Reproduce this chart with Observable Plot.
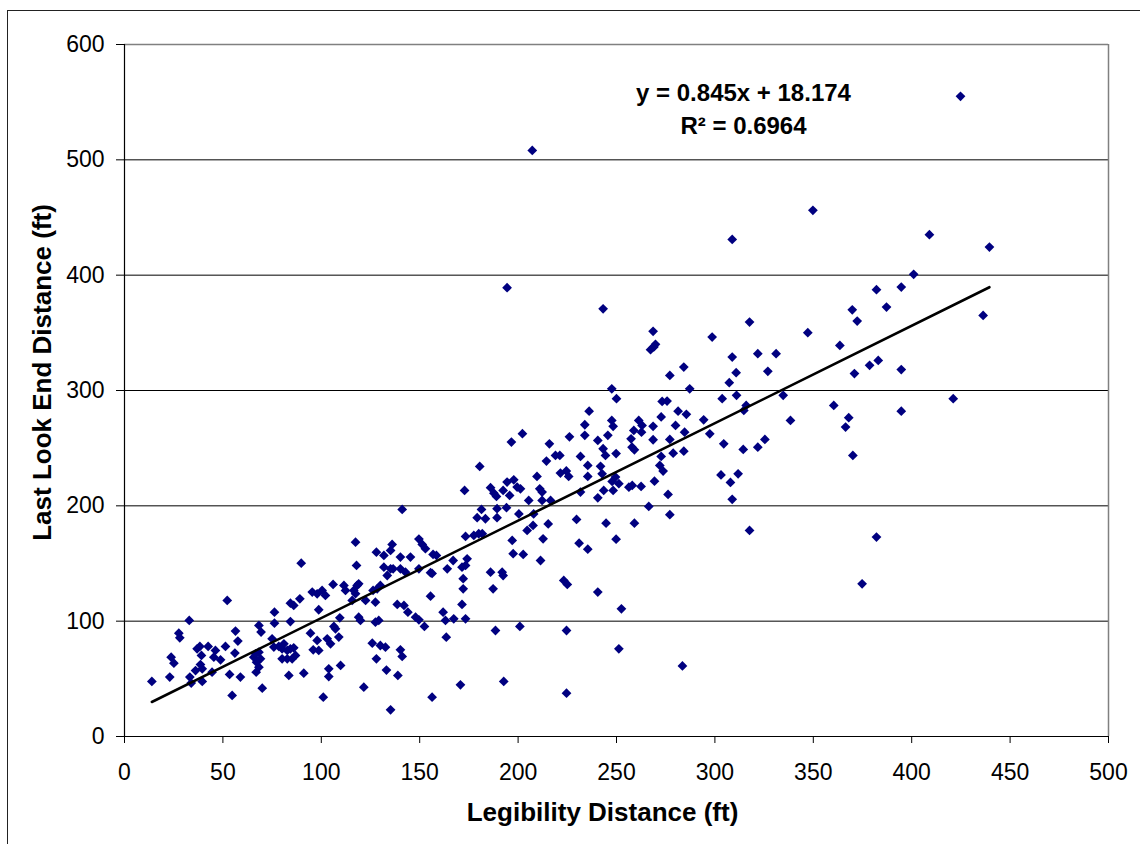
<!DOCTYPE html>
<html>
<head>
<meta charset="utf-8">
<script src="https://cdn.jsdelivr.net/npm/d3@7"></script>
<script src="https://cdn.jsdelivr.net/npm/@observablehq/plot@0.6"></script>
<style>
  html, body { margin: 0; padding: 0; background: #fff; overflow: hidden; }
  #wrap { position: relative; width: 1140px; height: 844px; }
  #frame { position: absolute; left: 7px; top: 10px; width: 1300px; height: 1000px;
           border-left: 1.5px solid #222; border-top: 1.5px solid #222; pointer-events: none; }
</style>
</head>
<body>
<div id="wrap"><div id="chart"></div><div id="frame"></div></div>
<script>
// Legibility distance (ft) vs Last look end distance (ft), grouped by x band
const band0to115 = [
  [89.8,150.3],[106.0,131.8],[111.5,131.0],[112.3,126.6],[52.2,118.0],[95.4,125.2],[97.9,123.7],[100.4,126.6],[102.1,122.3],
  [84.3,115.6],[86.0,113.6],[89.1,119.4],[76.2,107.8],[98.7,109.9],[109.4,102.9],[32.9,100.6],[76.2,98.3],[84.3,99.7],
  [68.3,96.3],[56.4,91.4],[69.4,90.5],[94.5,89.6],[106.4,95.4],[107.2,93.4],[108.9,86.2],[27.6,89.6],[28.1,85.6],
  [57.6,82.7],[75.0,84.7],[97.9,83.3],[103.0,84.7],[104.7,80.4],[36.9,76.0],[38.3,78.1],[42.5,78.1],[51.3,78.1],
  [39.1,70.3],[46.2,74.6],[56.1,72.3],[45.4,68.8],[48.8,66.5],[66.6,71.7],[68.3,73.1],[65.7,68.8],[69.1,67.4],
  [67.1,64.4],[68.3,60.1],[66.9,55.8],[75.9,77.5],[78.4,78.1],[80.1,76.0],[81.0,80.4],[82.7,74.6],[84.3,76.0],
  [86.0,76.9],[86.9,70.3],[85.2,67.4],[82.7,67.4],[80.1,67.4],[95.9,75.2],[98.7,74.6],[23.7,68.8],[25.1,63.6],
  [36.1,57.2],[38.6,62.4],[39.5,58.7],[44.5,55.8],[33.2,51.5],[33.9,46.3],[23.0,51.5],[13.9,47.7],[39.5,47.7],
  [53.4,53.8],[58.9,51.5],[83.5,52.9],[91.1,54.9],[103.8,58.7],[103.8,52.0],[109.8,61.6],[70.0,41.9],[54.7,35.6],
  [101.0,34.1]
];
const band115to226 = [
  [117.4,168.5],[117.9,148.3],[119.0,132.4],[118.2,131.0],[116.5,126.6],[117.4,123.8],[115.7,118.0],[119.0,103.5],
  [119.9,100.6],[121.6,42.8],[122.5,118.0],[127.5,116.5],[126.3,126.6],[128.4,128.0],[130.0,131.0],[128.0,159.8],
  [131.8,157.0],[131.8,146.8],[133.5,139.6],[135.2,145.4],[136.5,145.4],[135.2,161.3],[136.0,166.5],[127.5,99.1],
  [129.2,100.6],[125.9,80.9],[130.0,78.9],[132.6,77.4],[128.0,67.4],[133.1,57.6],[138.9,52.9],[135.2,23.1],
  [140.2,155.6],[140.2,145.4],[142.8,142.5],[145.3,155.6],[141.1,196.9],[138.6,114.5],[142.0,113.6],[144.0,107.8],
  [140.2,75.2],[141.1,69.4],[147.9,103.5],[149.6,101.2],[152.4,95.4],[149.6,171.2],[151.3,166.5],[152.9,162.8],
  [149.6,145.4],[155.5,142.0],[156.3,141.4],[156.8,157.9],[158.5,157.0],[155.5,121.7],[156.3,34.1],[161.9,107.8],
  [163.1,100.6],[167.3,102.0],[164.0,145.4],[167.0,152.6],[163.5,86.1],[170.7,44.8],[171.5,114.5],[172.1,128.0],
  [172.1,136.8],[171.5,146.8],[173.3,148.3],[174.1,154.1],[173.3,102.0],[172.8,213.4],[173.3,173.5],[177.5,174.3],
  [180.0,175.8],[181.8,175.8],[180.5,234.2],[179.2,189.7],[183.4,188.8],[181.4,196.9],[186.0,142.5],[187.3,128.0],
  [188.5,91.9],[186.0,215.7],[187.7,211.0],[189.0,208.2],[189.3,197.5],[189.3,189.7],[191.9,142.5],[192.4,139.6],
  [192.7,47.7],[192.4,213.4],[194.4,220.6],[195.7,209.0],[194.1,198.4],[196.6,255.3],[197.8,222.6],[197.0,170.0],
  [197.5,158.5],[200.4,193.0],[199.5,216.3],[201.2,214.8],[202.6,157.9],[200.9,95.4],[202.2,262.6],[204.6,178.7],
  [205.4,204.7],[207.6,183.0],[207.9,193.0],[209.6,225.5],[211.0,214.8],[212.2,211.9],[211.4,152.6],[212.7,171.4],
  [212.2,204.7],[214.4,238.8],[215.9,253.8],[215.3,184.3],[216.5,204.7],[219.0,243.7],[221.2,243.7],[221.5,228.4],
  [224.5,230.2],[225.7,225.5],[223.2,135.3],[225.0,131.8],[224.6,91.9],[224.6,37.6],[226.1,259.8]
];
const band226to338 = [
  [268.6,351.3],[267.3,335.4],[269.0,337.8],[269.8,340.0],[277.1,313.1],[284.2,320.3],[287.2,301.5],[298.6,346.3],
  [308.8,329.0],[310.8,315.4],[307.3,306.8],[303.7,292.9],[311.0,295.8],[314.7,282.7],[315.9,287.1],[321.8,331.9],
  [331.1,331.9],[326.9,316.6],[317.6,359.3],[334.7,295.8],[247.6,301.5],[250.0,292.9],[236.1,282.1],[247.6,274.0],
  [248.3,268.9],[245.6,261.1],[233.9,270.3],[233.9,261.1],[240.5,256.7],[231.7,242.8],[235.4,235.0],[235.4,225.5],
  [243.2,249.5],[244.4,243.7],[249.8,245.3],[241.9,234.3],[242.7,227.8],[249.5,224.9],[247.8,221.2],[251.2,219.2],
  [248.3,213.4],[243.5,213.4],[240.5,207.0],[231.7,211.9],[258.8,265.4],[261.3,274.0],[263.0,269.7],[262.7,263.9],
  [257.4,258.1],[257.9,250.9],[259.1,248.6],[268.6,268.9],[268.6,257.3],[272.7,277.1],[273.2,290.5],[275.7,290.8],
  [280.0,269.7],[281.3,282.1],[285.5,279.3],[277.1,257.6],[284.6,263.9],[284.2,247.4],[278.8,245.7],[272.7,242.8],
  [272.0,235.0],[273.7,230.1],[269.3,221.4],[258.0,217.7],[256.3,216.2],[262.5,216.8],[276.2,209.9],[266.4,199.5],
  [277.1,192.3],[259.1,185.0],[244.7,185.0],[229.7,188.2],[231.0,167.6],[235.4,162.4],[249.8,171.1],[240.5,125.2],
  [252.5,110.7],[251.2,76.0],[283.5,61.2],[294.3,274.6],[297.4,262.4],[304.5,253.8],[314.4,248.9],[321.8,250.9],
  [325.4,257.6],[303.1,226.8],[307.9,220.3],[311.8,227.8],[308.8,205.6],[317.6,178.7]
];
const band338to440 = [
  [424.8,555.1],[349.8,456.2],[409.0,435.1],[439.5,424.4],[401.0,400.7],[382.1,387.4],[394.7,389.7],[387.2,372.3],
  [369.8,370.0],[372.3,360.2],[347.2,350.1],[436.3,365.1],[363.5,339.1],[370.9,314.7],[378.6,321.8],[383.0,326.1],
  [394.7,318.2],[360.4,287.1],[368.0,276.4],[394.7,282.1],[421.1,292.9],[338.4,274.0],[366.4,268.3],[370.1,243.7],
  [382.1,172.9],[374.8,132.4]
];
const highOutliers = [[207.2,508.2],[308.8,431.0],[194.4,389.1],[243.2,370.8]];

const fitSlope = 0.845;
const fitIntercept = 18.174;
const fitLabels = ["y = 0.845x + 18.174", "R\u00B2 = 0.6964"];
const xTicks = [0, 50, 100, 150, 200, 250, 300, 350, 400, 450, 500];
const yTicks = [0, 100, 200, 300, 400, 500, 600];
const xTitle = "Legibility Distance (ft)";
const yTitle = "Last Look End Distance (ft)";

const points = [...band0to115, ...band115to226, ...band226to338, ...band338to440, ...highOutliers]
  .map(([x, y]) => ({x, y}));
const xExtent = d3.extent(points, d => d.x);
const trend = xExtent.map(x => ({x, y: fitSlope * x + fitIntercept}));

const chart = Plot.plot({
  width: 1140,
  height: 844,
  marginLeft: 124,
  marginRight: 32,
  marginTop: 44,
  marginBottom: 108,
  style: {fontFamily: "'Liberation Sans', Arial, sans-serif", fontSize: "23px", background: "#fff", color: "#000"},
  x: {domain: [0, 500]},
  y: {domain: [0, 600]},
  marks: [
    Plot.ruleY(yTicks.filter(v => v > 0 && v < 600), {stroke: "#000", strokeWidth: 1, strokeOpacity: 1}),
    Plot.ruleY([600], {stroke: "#808080", strokeWidth: 1.5}),
    Plot.ruleX([500], {stroke: "#808080", strokeWidth: 1.5}),
    Plot.axisX({ticks: xTicks, tickSize: 7, tickPadding: 20, tickFormat: d => String(d), label: null, stroke: "#000", strokeOpacity: 1}),
    Plot.axisY({ticks: yTicks, tickSize: 8, tickPadding: 12, tickFormat: d => String(d), label: null, stroke: "#000", strokeOpacity: 1}),
    Plot.ruleX([0], {stroke: "#000", strokeWidth: 1.2}),
    Plot.ruleY([0], {stroke: "#000", strokeWidth: 1.2}),
    Plot.dot(points, {x: "x", y: "y", symbol: "diamond2", r: 4.4, fill: "#000080", stroke: "none"}),
    Plot.line(trend, {x: "x", y: "y", stroke: "#000", strokeWidth: 2.6}),
    Plot.text([fitLabels[0]], {frameAnchor: "top", lineAnchor: "middle", dx: 127, dy: 49, fontWeight: "bold", fontSize: 24, fill: "#000"}),
    Plot.text([fitLabels[1]], {frameAnchor: "top", lineAnchor: "middle", dx: 127, dy: 82, fontWeight: "bold", fontSize: 24, fill: "#000"}),
    Plot.text([xTitle], {frameAnchor: "bottom", lineAnchor: "middle", dx: -14, dy: 76, fontWeight: "bold", fontSize: 26, fill: "#000"}),
    Plot.text([yTitle], {frameAnchor: "left", textAnchor: "middle", lineAnchor: "middle", dx: -82, dy: -18, rotate: -90, fontWeight: "bold", fontSize: 26, fill: "#000"})
  ]
});
document.getElementById("chart").appendChild(chart);
</script>
</body>
</html>
